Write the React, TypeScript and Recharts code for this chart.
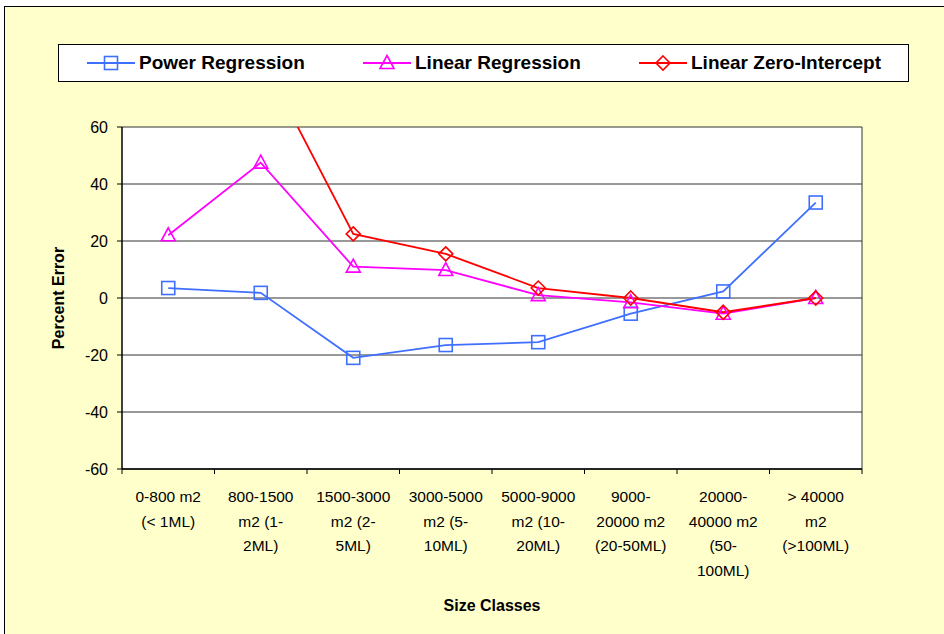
import React from 'react';
import { LineChart, Line, XAxis, YAxis, CartesianGrid, Legend } from 'recharts';

const categories = [
    '0-800 m2\n(< 1ML)',
    '800-1500\nm2 (1-\n2ML)',
    '1500-3000\nm2 (2-\n5ML)',
    '3000-5000\nm2 (5-\n10ML)',
    '5000-9000\nm2 (10-\n20ML)',
    '9000-\n20000 m2\n(20-50ML)',
    '20000-\n40000 m2\n(50-\n100ML)',
    '> 40000\nm2\n(>100ML)',
];

const powerRegression = [3.5, 1.8, -21, -16.5, -15.5, -5.5, 2.3, 33.5];
const linearRegression = [22, 47.5, 11, 9.8, 1, -1.5, -5.5, 0];
const linearZeroIntercept = [140, 85, 22.5, 15.5, 3.5, 0, -5, 0];

const yTicks = [-60, -40, -20, 0, 20, 40, 60];

const BLUE = '#3F6FFF';
const MAGENTA = '#FF00FF';
const RED = '#FF0000';
const FONT = '"Liberation Sans", Arial, sans-serif';

const data = categories.map((category, i) => ({
    category,
    power: powerRegression[i],
    linear: linearRegression[i],
    zero: linearZeroIntercept[i],
}));

type MarkerKind = 'square' | 'triangle' | 'diamond';

const Marker = ({ kind, cx, cy, color }: { kind: MarkerKind; cx: number; cy: number; color: string }) => {
    if (kind === 'square') {
        return <rect x={cx - 6.5} y={cy - 6.5} width={13} height={13} fill="none" stroke={color} strokeWidth={1.6} />;
    }
    if (kind === 'triangle') {
        return (
            <polygon
                points={`${cx},${cy - 7.5} ${cx + 7},${cy + 5.5} ${cx - 7},${cy + 5.5}`}
                fill="none"
                stroke={color}
                strokeWidth={1.6}
            />
        );
    }
    return (
        <polygon
            points={`${cx},${cy - 7} ${cx + 7},${cy} ${cx},${cy + 7} ${cx - 7},${cy}`}
            fill="none"
            stroke={color}
            strokeWidth={1.6}
        />
    );
};

const series = [
    { key: 'power', name: 'Power Regression', color: BLUE, marker: 'square' as MarkerKind },
    { key: 'linear', name: 'Linear Regression', color: MAGENTA, marker: 'triangle' as MarkerKind },
    { key: 'zero', name: 'Linear Zero-Intercept', color: RED, marker: 'diamond' as MarkerKind },
];

// Excel style: tick marks sit between categories, labels wrap under each band
const CategoryTick = (props: any) => {
    const { x, y, payload, index, width, visibleTicksCount } = props;
    const lines = String(payload.value).split('\n');
    const band = width / visibleTicksCount;
    const left = x - band / 2;
    return (
        <g>
            <line x1={left} y1={y} x2={left} y2={y + 5} stroke="#000" />
            {index === visibleTicksCount - 1 && <line x1={left + band} y1={y} x2={left + band} y2={y + 5} stroke="#000" />}
            <text x={x} y={y} textAnchor="middle" fontFamily={FONT} fontSize={15.5} fill="#000">
                {lines.map((line, i) => (
                    <tspan key={i} x={x} dy={i === 0 ? 33 : 24.5}>
                        {line}
                    </tspan>
                ))}
            </text>
        </g>
    );
};

const LegendBox = () => (
    <div
        style={{
            width: 851,
            height: 38,
            boxSizing: 'border-box',
            background: '#fff',
            border: '1px solid #000',
            display: 'flex',
            alignItems: 'center',
            paddingLeft: 28,
            fontFamily: FONT,
        }}
    >
        {series.map((s, i) => (
            <div key={s.key} style={{ display: 'flex', alignItems: 'center', width: i < 2 ? 276 : 'auto' }}>
                <svg width={48} height={20}>
                    <line x1={0} y1={10} x2={48} y2={10} stroke={s.color} strokeWidth={1.8} />
                    <Marker kind={s.marker} cx={24} cy={10} color={s.color} />
                </svg>
                <span style={{ fontSize: 19, fontWeight: 'bold', marginLeft: 4, color: '#000' }}>{s.name}</span>
            </div>
        ))}
    </div>
);

export default function App() {
    return (
        <div style={{ position: 'fixed', left: 0, top: 0, width: 944, height: 634, overflow: 'hidden', background: '#fff' }}>
            <div
                style={{
                    position: 'absolute',
                    left: 4,
                    top: 6,
                    width: 960,
                    height: 660,
                    background: '#FFFFCC',
                    border: '1px solid #000',
                }}
            />
            <div style={{ position: 'absolute', left: 0, top: 0 }}>
                <LineChart width={944} height={634} data={data} margin={{ top: 127, right: 82, left: 30, bottom: 37 }}>
                    <CartesianGrid
                        stroke="#333"
                        fill="#fff"
                        fillOpacity={1}
                        verticalCoordinatesGenerator={({ offset }: any) => [offset.left + offset.width]}
                    />
                    <XAxis
                        dataKey="category"
                        scale="band"
                        interval={0}
                        axisLine={{ stroke: '#000', strokeWidth: 1.5 }}
                        tickLine={false}
                        tickSize={0}
                        tickMargin={0}
                        height={128}
                        tick={<CategoryTick />}
                        label={{
                            content: (p: any) => (
                                <text
                                    x={p.viewBox.x + p.viewBox.width / 2}
                                    y={p.viewBox.y + 142}
                                    textAnchor="middle"
                                    fontFamily={FONT}
                                    fontSize={16}
                                    fontWeight="bold"
                                    fill="#000"
                                >
                                    Size Classes
                                </text>
                            ),
                        }}
                    />
                    <YAxis
                        width={92}
                        domain={[-60, 60]}
                        ticks={yTicks}
                        allowDataOverflow
                        interval={0}
                        tickSize={5}
                        tickMargin={9}
                        axisLine={{ stroke: '#000', strokeWidth: 1.5 }}
                        tickLine={{ stroke: '#000' }}
                        tick={{ fontFamily: FONT, fontSize: 16, fill: '#000' }}
                        label={{
                            content: (p: any) => {
                                const cx = p.viewBox.x + 28;
                                const cy = p.viewBox.y + p.viewBox.height / 2;
                                return (
                                    <text
                                        x={cx}
                                        y={cy}
                                        transform={`rotate(-90 ${cx} ${cy})`}
                                        textAnchor="middle"
                                        dominantBaseline="central"
                                        fontFamily={FONT}
                                        fontSize={16}
                                        fontWeight="bold"
                                        fill="#000"
                                    >
                                        Percent Error
                                    </text>
                                );
                            },
                        }}
                    />
                    <Legend
                        verticalAlign="middle"
                        layout="horizontal"
                        content={<LegendBox />}
                        wrapperStyle={{ top: 44, left: 58, width: 851 }}
                    />
                    {series.map((s) => (
                        <Line
                            key={s.key}
                            dataKey={s.key}
                            name={s.name}
                            stroke={s.color}
                            strokeWidth={1.8}
                            isAnimationActive={false}
                            dot={(p: any) => <Marker key={`${s.key}-${p.index}`} kind={s.marker} cx={p.cx} cy={p.cy} color={s.color} />}
                            activeDot={false}
                        />
                    ))}
                </LineChart>
            </div>
        </div>
    );
}
